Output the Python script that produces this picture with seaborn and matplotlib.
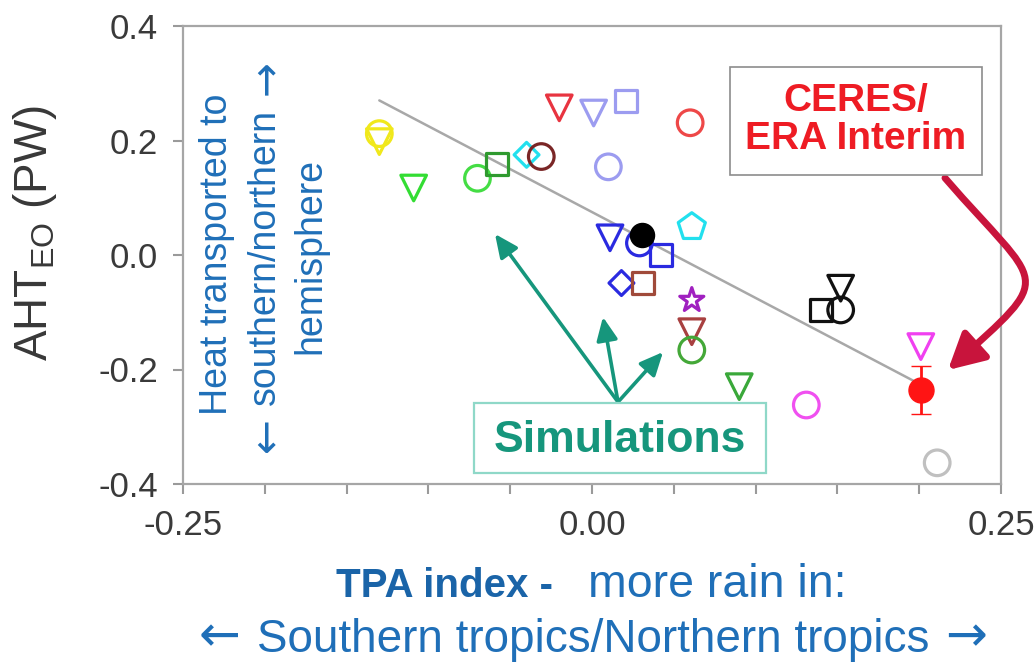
import matplotlib
matplotlib.use("Agg")
import matplotlib.pyplot as plt
import seaborn as sns
import numpy as np
from matplotlib.patches import FancyArrowPatch, Rectangle
from matplotlib.path import Path

# ---------------- data ----------------
tpa = [-0.130, -0.130, -0.109, -0.070, -0.058, -0.040, -0.031, -0.020, 0.001, 0.021,
       0.060, 0.010, 0.011, 0.029, 0.042, 0.061, 0.018, 0.031, 0.061, 0.061,
       0.061, 0.090, 0.131, 0.140, 0.152, 0.152, 0.201, 0.211]
aht = [0.212, 0.198, 0.117, 0.134, 0.159, 0.175, 0.172, 0.257, 0.248, 0.269,
       0.231, 0.154, 0.030, 0.021, 0.000, 0.049, -0.049, -0.049, -0.079, -0.134,
       -0.166, -0.230, -0.262, -0.096, -0.096, -0.058, -0.160, -0.363]
point_colors = ['#f0e81c', '#f0e81c', '#33dd33', '#44dd44', '#2f9a2f', '#22e0ee', '#7a2626',
                '#e83440', '#9c9cf0', '#9c9cf0', '#ee4848', '#9c9cf0', '#2a2ae0', '#2a2ae0',
                '#2a2ae0', '#22e0ee', '#2a2ae0', '#a04a3a', '#a020c0', '#a84040', '#44a838',
                '#3aa83a', '#f050f0', '#111111', '#111111', '#111111', '#f040f0', '#c0c0c0']
point_markers = ['o', 'v', 'v', 'o', 's', 'D', 'o', 'v', 'v', 's',
                 'o', 'o', 'v', 'o', 's', 'p', 'D', 's', '*', 'v',
                 'o', 'v', 'o', 's', 'o', 'v', 'v', 'o']

# filled black simulation point
black_tpa = [0.0306]
black_aht = [0.035]

# CERES / ERA Interim observation with error bar
obs_tpa = [0.201]
obs_aht = [-0.236]
obs_err = [0.042]

# regression line end points
fit_tpa = [-0.130, 0.200]
fit_aht = [0.270, -0.225]

x_ticks = [-0.25, -0.20, -0.15, -0.10, -0.05, 0.00, 0.05, 0.10, 0.15, 0.20, 0.25]
x_ticklabels = ['-0.25', '', '', '', '', '0.00', '', '', '', '', '0.25']
y_ticks = [-0.4, -0.2, 0.0, 0.2, 0.4]
y_ticklabels = ['-0.4', '-0.2', '0.0', '0.2', '0.4']

# ---------------- style ----------------
sns.set_theme(style='white')
plt.rcParams['font.family'] = ['Liberation Sans', 'DejaVu Sans']
plt.rcParams['mathtext.fontset'] = 'custom'
plt.rcParams['mathtext.rm'] = 'Liberation Sans'
plt.rcParams['mathtext.it'] = 'Liberation Sans:italic'
plt.rcParams['mathtext.bf'] = 'Liberation Sans:bold'
plt.rcParams['axes.unicode_minus'] = False

marker_sizes = {'o': 340, 'v': 340, 's': 250, 'D': 160, 'p': 420, '*': 330}
blue_txt = '#1f6fb8'
teal = '#16967c'
W, H = 1036, 663


def fx(px):
    return px / W


def fy(py):
    return 1 - py / H


fig = plt.figure(figsize=(10.36, 6.63), dpi=100)
ax = fig.add_axes([fx(183), fy(484), 818 / W, 458 / H])

# regression line
sns.lineplot(x=fit_tpa, y=fit_aht, color='#a8a8a8', linewidth=1.8, ax=ax, zorder=2)

# simulation points
for x, y, c, m in zip(tpa, aht, point_colors, point_markers):
    sns.scatterplot(x=[x], y=[y], marker=m, s=marker_sizes[m], facecolors='none',
                    edgecolor=c, linewidth=2.3, ax=ax, zorder=3)
sns.scatterplot(x=black_tpa, y=black_aht, marker='o', s=300, color='black',
                edgecolor='black', linewidth=1, ax=ax, zorder=4)

# observation
ax.errorbar(obs_tpa, obs_aht, yerr=obs_err, fmt='o', color='#ff1414', ms=18, mew=1,
            elinewidth=2, capsize=7, capthick=2, zorder=5)

ax.set_xlim(-0.25, 0.25)
ax.set_ylim(-0.4, 0.4)
ax.set_xticks(x_ticks)
ax.set_xticklabels(x_ticklabels)
ax.set_yticks(y_ticks)
ax.set_yticklabels(y_ticklabels)
ax.tick_params(axis='both', which='both', direction='out', bottom=True, left=True,
               length=7, width=1.5, color='#9a9a9a', labelsize=25, labelcolor='#3a3a3a', pad=11)
for sp in ax.spines.values():
    sp.set_color('#a6a6a6')
    sp.set_linewidth(1.6)
ax.set_xlabel('')
ax.set_ylabel('')

# y label
fig.text(fx(35), fy(233), r'AHT$_{\mathrm{EO}}$ (PW)', rotation=90, ha='center',
         va='center', fontsize=33, color='#383838')

# x label (two lines, first partly bold)
fig.text(fx(553), fy(597), 'TPA index -', ha='right', va='baseline',
         fontsize=29, fontweight='bold', color='#1a64a8')
fig.text(fx(588), fy(597), 'more rain in:', ha='left', va='baseline',
         fontsize=33.5, color=blue_txt)
fig.text(fx(593), fy(652), 'Southern tropics/Northern tropics',
         ha='center', va='baseline', fontsize=33, color=blue_txt)
fig.text(fx(220), fy(637), '\u2190', ha='center', va='center', fontsize=36,
         color=blue_txt, family='DejaVu Sans')
fig.text(fx(966), fy(637), '\u2192', ha='center', va='center', fontsize=36,
         color=blue_txt, family='DejaVu Sans')

# vertical explanatory text inside axes
fig.text(fx(217), fy(254), 'Heat transported to', rotation=90, ha='center', va='center',
         fontsize=27, color=blue_txt, zorder=6)
fig.text(fx(265), fy(257), 'southern/northern', rotation=90, ha='center', va='center',
         fontsize=27, color=blue_txt, zorder=6)
fig.text(fx(266), fy(435), '\u2190', rotation=90, ha='center', va='center',
         fontsize=30, color=blue_txt, family='DejaVu Sans', zorder=6)
fig.text(fx(266), fy(78), '\u2192', rotation=90, ha='center', va='center',
         fontsize=30, color=blue_txt, family='DejaVu Sans', zorder=6)
fig.text(fx(310), fy(256), 'hemisphere', rotation=90, ha='center', va='center',
         fontsize=27, color=blue_txt, zorder=6)

# Simulations box and arrows
fig.add_artist(Rectangle((fx(474), fy(473)), 292 / W, 70 / H,
                         transform=fig.transFigure, facecolor='white',
                         edgecolor='#8fd8c8', linewidth=1.6, zorder=7))
fig.text(fx(620), fy(440), 'Simulations', ha='center', va='center',
         fontsize=32, fontweight='bold', color=teal, zorder=8)
start = (0.0159, -0.2568)
for tip in [(-0.0593, 0.0367), (0.0067, -0.1083), (0.0434, -0.1695)]:
    ax.annotate('', xy=tip, xytext=start,
                arrowprops=dict(arrowstyle='-|>,head_length=0.7,head_width=0.32',
                                color=teal, lw=2.6, mutation_scale=20, shrinkA=0, shrinkB=0),
                zorder=6)

# CERES box
fig.add_artist(Rectangle((fx(730), fy(175)), 252 / W, 108 / H,
                         transform=fig.transFigure, facecolor='white',
                         edgecolor='#8c8c8c', linewidth=1.2, zorder=7))
fig.text(fx(856), fy(120), 'CERES/\nERA Interim', ha='center', va='center',
         multialignment='center', fontsize=28, fontweight='bold', color='#ee1c24',
         linespacing=1.1, zorder=8)


# curved red arrow (pixel path converted to data coords)
def px2data(px, py):
    return ((px - 592) / 1636, (255 - py) / 572.5)


verts = [px2data(945, 178), px2data(1043, 291), px2data(1058, 271), px2data(948, 370)]
codes = [Path.MOVETO, Path.CURVE4, Path.CURVE4, Path.CURVE4]
red_arrow = FancyArrowPatch(path=Path(verts, codes),
                            arrowstyle='-|>,head_length=0.6,head_width=0.32',
                            mutation_scale=36, color='#c8143c', linewidth=5,
                            transform=ax.transData, zorder=9)
red_arrow.set_clip_on(False)
ax.add_patch(red_arrow)

fig.savefig('out.png', dpi=100)
